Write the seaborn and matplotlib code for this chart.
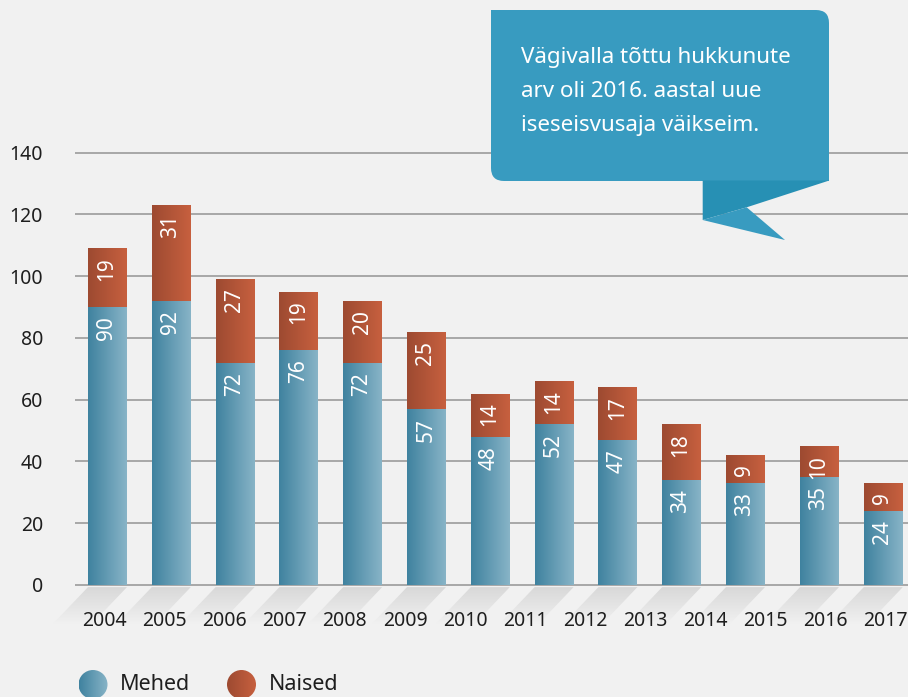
import numpy as np
import pandas as pd
import matplotlib
matplotlib.use("Agg")
import matplotlib.pyplot as plt
from matplotlib.colors import LinearSegmentedColormap
from matplotlib.patches import Polygon, FancyBboxPatch, Circle, Rectangle
import seaborn as sns

# ---------------- data ----------------
years = ["2004", "2005", "2006", "2007", "2008", "2009", "2010",
         "2011", "2012", "2013", "2014", "2015", "2016", "2017"]
mehed = [90, 92, 72, 76, 72, 57, 48, 52, 47, 34, 33, 35, 24]
naised = [19, 31, 27, 19, 20, 25, 14, 14, 17, 18, 9, 10, 9]
yticks = [0, 20, 40, 60, 80, 100, 120, 140]
legend_labels = ["Mehed", "Naised"]
callout_lines = ["Vägivalla tõttu hukkunute",
                 "arv oli 2016. aastal uue",
                 "iseseisvusaja väikseim."]

# ---------------- layout ----------------
bar_slots = [0, 1, 2, 3, 4, 5, 6, 7, 8, 9, 10, 11.16, 12.16]
label_slots = [-0.047 + 0.942 * i for i in range(len(years))]

BG = "#f1f1f1"
blue_cmap = LinearSegmentedColormap.from_list("b", ["#3f829f", "#88b4c7"])
red_cmap = LinearSegmentedColormap.from_list("r", ["#9d4a31", "#c7603f"])
shadow_cmap = LinearSegmentedColormap.from_list("s", ["#d8d8d8", BG])
TXT = "#1e1e1e"

sns.set_style("white")
plt.rcParams["font.family"] = ["Noto Sans", "DejaVu Sans"]

fig = plt.figure(figsize=(9.08, 6.97), dpi=100, facecolor=BG)
ax = fig.add_axes([75 / 908, 1 - 586.5 / 697, 833 / 908, (586.5 - 149.6) / 697])
ax.set_facecolor(BG)

df = pd.DataFrame({"slot": bar_slots,
                   "total": np.add(mehed, naised),
                   "mehed": mehed,
                   "naised": naised})

sns.barplot(data=df, x="slot", y="total", native_scale=True, width=0.611,
            color="#b5573a", saturation=1, errorbar=None, linewidth=0,
            zorder=2, ax=ax)
n_red = len(ax.patches)
sns.barplot(data=df, x="slot", y="mehed", native_scale=True, width=0.611,
            color="#6a9db5", saturation=1, errorbar=None, linewidth=0,
            zorder=3, ax=ax)

patches = list(ax.patches)
red_patches = patches[:n_red]
blue_patches = patches[n_red:]

grad_h = np.linspace(0, 1, 256).reshape(1, -1)
for plist, cmap in ((red_patches, red_cmap), (blue_patches, blue_cmap)):
    for p in plist:
        x0, y0 = p.get_x(), p.get_y()
        w, h = p.get_width(), p.get_height()
        im = ax.imshow(grad_h, extent=[x0, x0 + w, y0, y0 + h], aspect="auto",
                       cmap=cmap, interpolation="bilinear",
                       zorder=p.get_zorder() + 0.5)
        im.set_clip_path(p)

# value labels
for p, v in zip(blue_patches, df["mehed"]):
    ax.annotate(str(v), (p.get_x() + p.get_width() / 2, p.get_y() + p.get_height()),
                xytext=(-0.5, -6.5), textcoords="offset points", rotation=90,
                ha="center", va="top", color="white", fontsize=15, zorder=6)
for p, v in zip(red_patches, df["naised"]):
    ax.annotate(str(v), (p.get_x() + p.get_width() / 2, p.get_y() + p.get_height()),
                xytext=(-0.5, -6.5), textcoords="offset points", rotation=90,
                ha="center", va="top", color="white", fontsize=15, zorder=6)

# floor shadows (parallelograms under each bar)
grad_v = np.linspace(0, 1, 256).reshape(-1, 1)
ytop, ybot, dx = -0.7, -12.6, 0.55
for p in blue_patches:
    x0 = p.get_x()
    x1 = x0 + p.get_width()
    poly = Polygon([(x0, ytop), (x1, ytop), (x1 - dx, ybot), (x0 - dx, ybot)],
                   closed=True, transform=ax.transData)
    im = ax.imshow(grad_v, extent=[x0 - dx, x1, ybot, ytop], aspect="auto",
                   cmap=shadow_cmap, interpolation="bilinear", zorder=0.2,
                   origin="upper")
    im.set_clip_path(poly)
    im.set_clip_box(fig.bbox)

ax.set_xlim(-0.5094, 12.547)
ax.set_ylim(-0.5, 141)
ax.set_yticks(yticks)
ax.set_yticklabels([str(t) for t in yticks])
ax.set_xticks(label_slots)
ax.set_xticklabels(years)
ax.set_xlabel("")
ax.set_ylabel("")
ax.yaxis.grid(True, color="#9b9b9b", lw=1.2)
ax.xaxis.grid(False)
ax.set_axisbelow(True)
for s in ax.spines.values():
    s.set_visible(False)
ax.tick_params(axis="y", length=0, pad=23, labelsize=14, labelcolor=TXT)
ax.tick_params(axis="x", length=0, pad=18, labelsize=14, labelcolor=TXT)

# ---------------- overlay: callout + legend ----------------
ov = fig.add_axes([0, 0, 1, 1], zorder=10)
ov.set_xlim(0, 908)
ov.set_ylim(697, 0)
ov.axis("off")
ov.patch.set_alpha(0)

CALL = "#389bc0"
box = FancyBboxPatch((491, 10), 338, 171, boxstyle="round,pad=0,rounding_size=13",
                     fc=CALL, ec="none")
ov.add_patch(box)
ov.add_patch(Rectangle((491, 10), 20, 20, fc=CALL, ec="none"))
ov.add_patch(Rectangle((809, 161), 20, 20, fc=CALL, ec="none"))
ov.add_patch(Polygon([(702.7, 180.5), (829.3, 180.5), (746.7, 207.3), (702.7, 220)],
                     closed=True, fc="#2790b4", ec="none"))
ov.add_patch(Polygon([(702.7, 220), (746.7, 207.3), (785, 240)],
                     closed=True, fc=CALL, ec="none"))
for i, line in enumerate(callout_lines):
    ov.text(521, 58 + 33.5 * i, line, color="white", fontsize=16.1,
            ha="left", va="center")

leg_x = [93, 241.5]
for lx, lab, cmap in zip(leg_x, legend_labels, (blue_cmap, red_cmap)):
    c = Circle((lx, 684.5), 14.5, fc="none", ec="none")
    ov.add_patch(c)
    im = ov.imshow(grad_h, extent=[lx - 14.5, lx + 14.5, 684.5 + 14.5, 684.5 - 14.5],
                   aspect="auto", cmap=cmap, interpolation="bilinear")
    im.set_clip_path(c)
    ov.text(lx + 27, 684, lab, color=TXT, fontsize=15.5, ha="left", va="center")
ov.set_xlim(0, 908)
ov.set_ylim(697, 0)

fig.savefig("out.png", dpi=100, facecolor=BG)
